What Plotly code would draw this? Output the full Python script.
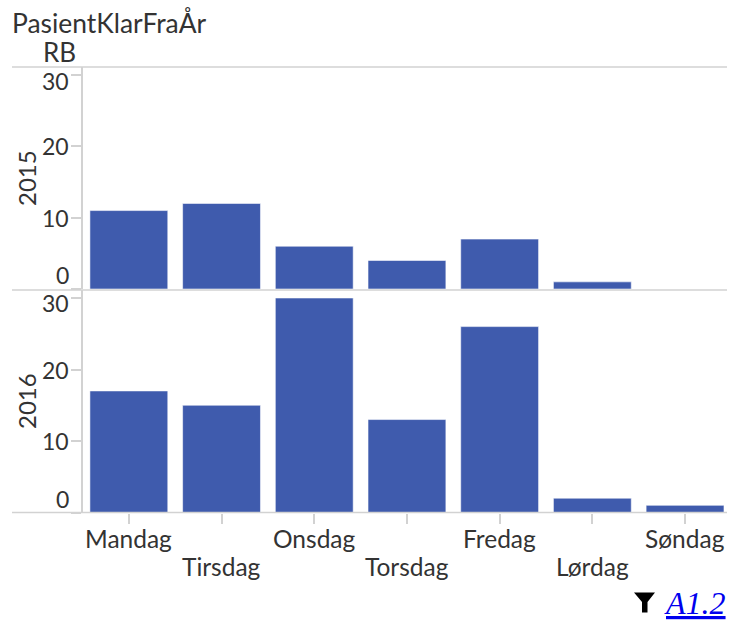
import plotly.graph_objects as go

days = ["Mandag", "Tirsdag", "Onsdag", "Torsdag", "Fredag", "Lørdag", "Søndag"]
v2015 = [11, 12, 6, 4, 7, 1, 0]
v2016 = [17, 15, 30, 13, 26, 2, 1]
yticks = [0, 10, 20, 30]
W, H = 729, 623
BAR = "#3f5bad"
EDGE = "rgba(255,255,255,0.55)"
GREY = "#d2d2d2"
TXT = "#333333"
FONT = "Lato"

def py(p):
    return 1 - p / H
def px(p):
    return p / W

def edge(vals):
    return dict(color=EDGE, width=[1 if v else 0 for v in vals])

fig = go.Figure()
fig.add_bar(x=days, y=v2015, xaxis="x", yaxis="y", width=0.84, marker=dict(color=BAR, line=edge(v2015)))
fig.add_bar(x=days, y=v2016, xaxis="x2", yaxis="y2", width=0.84, marker=dict(color=BAR, line=edge(v2016)))

xrange = [-0.5, 6.5 - (731.4 - 727) / 92.7]
xdom = [px(82.5), px(727)]
common_y = dict(tickvals=yticks, showticklabels=False, ticks="outside", ticklen=10, tickcolor=GREY, tickwidth=1.5,
                showgrid=False, zeroline=False, showline=True, linecolor=GREY, linewidth=1.5)

annotations = [
    dict(text="PasientKlarFraÅr", x=px(10), y=py(23), xanchor="left", yanchor="middle", font=dict(size=26.4, color=TXT, family=FONT)),
    dict(text="RB", x=px(41), y=py(52.5), xanchor="left", yanchor="middle", font=dict(size=26, color=TXT, family=FONT)),
    dict(text="2015", x=px(26), y=py(178), textangle=-90, xanchor="center", yanchor="middle", font=dict(size=24, color=TXT, family=FONT)),
    dict(text="2016", x=px(26), y=py(401), textangle=-90, xanchor="center", yanchor="middle", font=dict(size=24, color=TXT, family=FONT)),
    dict(text='<a href="#"><u><i>A1.2</i></u></a>', x=px(727.5), y=py(603), xanchor="right", yanchor="middle",
         font=dict(size=32, color="#0000ee", family="Liberation Serif")),
]
annotations = [dict(a, xref="paper", yref="paper", showarrow=False) for a in annotations]

for yref, shifts in (("y", {0: 14, 10: 0, 20: 0, 30: -6}), ("y2", {0: 14, 10: 0, 20: 0, 30: -5})):
    for t in yticks:
        annotations.append(dict(text=str(t), xref="paper", yref=yref, x=px(71), y=t, yshift=shifts[t],
                                xanchor="right", yanchor="middle", showarrow=False,
                                font=dict(size=23, color=TXT, family=FONT)))

for i, d in enumerate(days):
    annotations.append(dict(text=d, xref="x2", yref="paper", x=d, y=py(566 if i % 2 else 538),
                            xanchor="center", yanchor="middle", showarrow=False,
                            font=dict(size=24.5, color=TXT, family=FONT)))

shapes = []
for yp in (67, 290, 512.5):
    shapes.append(dict(type="line", xref="paper", yref="paper", x0=px(12), x1=px(727), y0=py(yp), y1=py(yp),
                       line=dict(color=GREY, width=1.5)))
# funnel icon
p = lambda x, y: f"{px(x)},{py(y)}"
shapes.append(dict(type="path", xref="paper", yref="paper", fillcolor="black", line=dict(width=0),
                   path=f"M{p(634, 592.5)} L{p(655, 592.5)} L{p(647.5, 602)} L{p(647.5, 612.5)} L{p(642, 612.5)} L{p(642, 602)} Z"))

fig.update_layout(
    width=W, height=H, autosize=False, margin=dict(l=0, r=0, t=0, b=0), showlegend=False,
    paper_bgcolor="white", plot_bgcolor="white", font=dict(family=FONT, color=TXT),
    xaxis=dict(domain=xdom, range=xrange, anchor="y", showticklabels=False, ticks="", showgrid=False, showline=False, zeroline=False,
               categoryorder="array", categoryarray=days),
    xaxis2=dict(domain=xdom, range=xrange, anchor="y2", tickmode="array", tickvals=days, showticklabels=False,
                ticks="outside", ticklen=10, tickcolor=GREY, tickwidth=1.5, showgrid=False, showline=False, zeroline=False,
                categoryorder="array", categoryarray=days),
    yaxis=dict(domain=[py(289), py(67)], range=[0, (289 - 67) / 7.13], **common_y),
    yaxis2=dict(domain=[py(512.5), py(290)], range=[0, (512.5 - 290) / 7.15], **common_y),
    annotations=annotations, shapes=shapes,
)
fig.write_html("out.html", config=dict(displayModeBar=False),
               post_script="document.body.style.margin='0';document.documentElement.style.overflow='hidden';"
                           "document.querySelectorAll('.annotation a').forEach(a=>{a.style.fill='#0000ee';});")
